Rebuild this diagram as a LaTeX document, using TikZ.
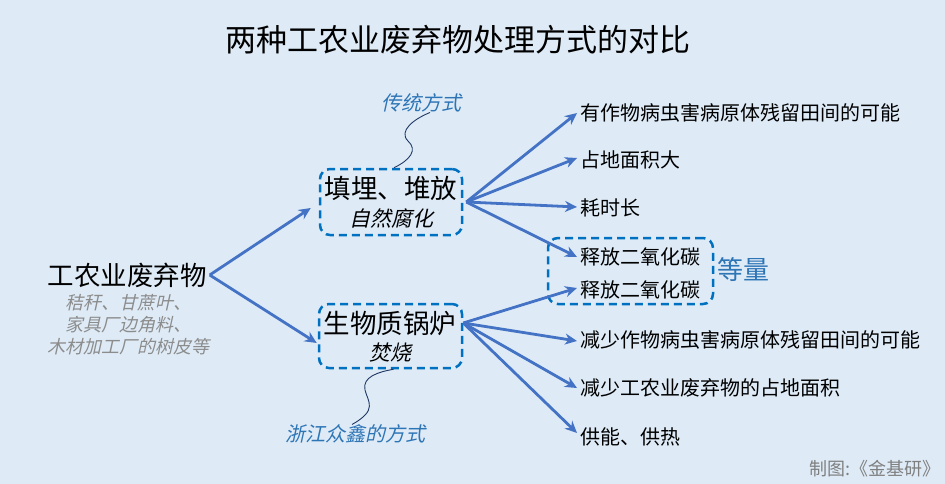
\documentclass[tikz,border=0pt]{standalone}
\usepackage{fontspec}
\setmainfont{Noto Sans CJK SC}
\newfontfamily\itf[FakeSlant=0.22]{Noto Sans CJK SC}
\usetikzlibrary{arrows.meta}
\definecolor{bg}{HTML}{DEEBF7}
\definecolor{arrowblue}{HTML}{4472C4}
\definecolor{dashblue}{HTML}{0070C0}
\definecolor{calloutblue}{HTML}{2E75B6}
\definecolor{navyline}{HTML}{203864}
\definecolor{graytext}{HTML}{8C8C8C}
\definecolor{credit}{HTML}{7F7F7F}
\newcommand{\fs}[1]{\fontsize{#1}{#1}\selectfont}
\begin{document}
\begin{tikzpicture}[x=1pt,y=-1pt,
  txt/.style={inner sep=0pt, text=black},
  item/.style={inner sep=0pt, anchor=west, text=black, font=\fs{20}},
  arr/.style={draw=arrowblue, line width=2.8pt, -{Stealth[length=12pt,width=11pt]}},
  dbox/.style={draw=dashblue, line width=2.5pt, dash pattern=on 8pt off 5pt, rounded corners=10pt, inner sep=0pt},
  callout/.style={draw=navyline, line width=0.9pt},
  ctext/.style={inner sep=0pt, text=calloutblue, font=\itf\fs{20}}]
\fill[bg] (0,0) rectangle (945,484);
\useasboundingbox (0,0) rectangle (945,484);

% title
\node[txt, font=\fs{31}] (title) at (458,40) {两种工农业废弃物处理方式的对比};

% root
\node[txt, font=\fs{26.5}] (root) at (127,275) {工农业废弃物};
\node[inner sep=0pt, text=graytext, font=\itf\fontsize{18}{22}\selectfont, align=center] (sub) at (128,325)
  {秸秆、甘蔗叶、\\家具厂边角料、\\木材加工厂的树皮等};

% top box
\node[dbox, minimum width=142pt, minimum height=66pt] (tb) at (391,202) {};
\node[txt, font=\fs{26.5}] (tbt) at (391,188) {填埋、堆放};
\node[txt, font=\itf\fs{21}] (tbs) at (391,218) {自然腐化};
\node[ctext] (ct) at (421,103) {传统方式};
\draw[callout] ([xshift=3pt]tb.north) .. controls (410,160) and (418,150) .. (408,141)
  .. controls (398,131) and (414,119) .. ([xshift=9pt]ct.south);

% bottom box
\node[dbox, minimum width=143pt, minimum height=64pt] (bb) at (390.5,336) {};
\node[txt, font=\fs{26.5}] (bbt) at (390,323) {生物质锅炉};
\node[txt, font=\itf\fs{21}] (bbs) at (390,353) {焚烧};
\node[ctext] (cb) at (355,434) {浙江众鑫的方式};
\draw[callout] ([xshift=3pt]bb.south) .. controls (378,372) and (362,377) .. (365,390)
  .. controls (368,402) and (378,410) .. ([xshift=-3pt]cb.north);

% root arrows
\draw[arr] ([xshift=3pt]root.east) -- ([shift={(-8,6)}]tb.west);
\draw[arr] ([xshift=3pt]root.east) -- ([shift={(-1,7)}]bb.west);

% CO2 box
\node[dbox, minimum width=165pt, minimum height=66pt] (cbox) at (630.5,271) {};
\node[txt, text=calloutblue, font=\fs{26}] (eq) at (743,270) {等量};

% right items
\node[item] (i1) at (580,113) {有作物病虫害病原体残留田间的可能};
\node[item] (i2) at (580,160) {占地面积大};
\node[item] (i3) at (580,208) {耗时长};
\node[item] (i4) at (580,257) {释放二氧化碳};
\node[item] (i5) at (580,290) {释放二氧化碳};
\node[item] (i6) at (580,340) {减少作物病虫害病原体残留田间的可能};
\node[item] (i7) at (580,388) {减少工农业废弃物的占地面积};
\node[item] (i8) at (580,437) {供能、供热};

\coordinate (to) at ([xshift=3pt]tb.east);
\coordinate (bo) at ([shift={(0,-13)}]bb.east);
\foreach \i/\dy in {i1/0,i2/-2,i3/-1,i4/0} \draw[arr] (to) -- ([shift={(-3,\dy)}]\i.west);
\foreach \i/\dy in {i5/-2,i6/1,i7/0,i8/-4} \draw[arr] (bo) -- ([shift={(-3,\dy)}]\i.west);

% credit
\node[inner sep=0pt, anchor=east, text=credit, font=\fs{18}] (cr) at (941,469) {制图:《金基研》};
\end{tikzpicture}
\end{document}
